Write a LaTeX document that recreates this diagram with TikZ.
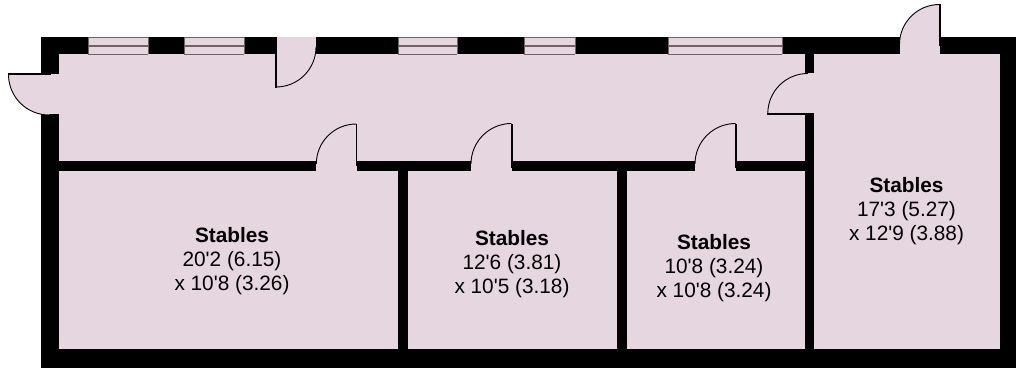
\documentclass[tikz,border=0pt]{standalone}
\usepackage{fontspec}
\newfontfamily\labfont{Liberation Sans}
\definecolor{roomfill}{HTML}{E6D6E0}
\definecolor{wingray}{HTML}{6E6468}
\tikzset{
  wall/.style={fill=black,draw=none},
  room/.style={fill=roomfill,draw=none},
  leaf/.style={fill=black,draw=none},
  swing/.style={draw=black,line width=0.9pt},
  winline/.style={draw=wingray,line width=0.9pt},
  winmid/.style={draw=wingray,line width=1.7pt},
  label/.style={align=center,font=\labfont\fontsize{20.8}{24}\selectfont,inner sep=0pt}
}
\newcommand{\windowat}[2]{%
  \fill[room] (#1,37) rectangle (#2,54.5);
  \draw[winline] (#1,37.5) -- (#2,37.5);
  \draw[winmid] (#1,45.8) -- (#2,45.8);
  \draw[winline] (#1,54.2) -- (#2,54.2);
  \draw[draw=wingray,line width=0.5pt] (#1,37) -- (#1,54.5) (#2,37) -- (#2,54.5);
}
\begin{document}
\begin{tikzpicture}[x=1pt,y=-1pt]
\useasboundingbox (0,0) rectangle (1016,371);
% shell and rooms
\fill[wall] (41,37) rectangle (1016,367.5);
\fill[room] (59,54.5) rectangle (1000,349.3);
% interior walls
\fill[wall] (59,161) rectangle (805,170.7);
\fill[wall] (804.5,54.5) rectangle (813.8,349.3);
\fill[wall] (398,170) rectangle (407.7,349.3);
\fill[wall] (617,170) rectangle (626.7,349.3);
% windows
\windowat{88.3}{147.8}
\windowat{184.3}{244}
\windowat{398}{457.3}
\windowat{524}{575}
\windowat{668}{782.3}
% left door
\fill[room] (8.5,74.5) arc[start angle=180,end angle=90,radius=40.5] -- (49,74.5) -- cycle;
\fill[room] (41,74.5) rectangle (59,114);
\draw[swing] (8.5,74.5) arc[start angle=180,end angle=90,radius=40.5];
\fill[room] (41.5,74.5) rectangle (59,114);
\fill[leaf] (8,73) rectangle (51,75.3);
% top door 1
\fill[room] (276,37) rectangle (316,55);
\draw[swing] (316,47) arc[start angle=0,end angle=90,radius=40];
\fill[leaf] (275,48) rectangle (277.2,87.8);
\fill[leaf] (275.7,37) rectangle (277,50);
% corridor door 1
\fill[room] (316.3,161) rectangle (357,170.7);
\draw[swing] (316.3,164) arc[start angle=180,end angle=270,radius=40];
\fill[room] (316.3,164) rectangle (355.6,170.7);
\fill[leaf] (355.6,124) rectangle (357.4,166);
% corridor door 2
\fill[room] (471,161) rectangle (512,170.7);
\draw[swing] (471,164) arc[start angle=180,end angle=270,radius=40.5];
\fill[room] (471,164) rectangle (510.8,170.7);
\fill[leaf] (510.8,124) rectangle (513,168);
% corridor door 3
\fill[room] (695,161) rectangle (736,170.7);
\draw[swing] (695,164) arc[start angle=180,end angle=270,radius=40.5];
\fill[room] (695,164) rectangle (734.8,170.7);
\fill[leaf] (734.8,124) rectangle (737,168);
% side door
\fill[room] (804,73.5) rectangle (814,114);
\draw[swing] (767.8,113.5) arc[start angle=180,end angle=270,radius=40];
\fill[leaf] (767.3,113) rectangle (814,115.3);
% top door 2
\fill[room] (899.5,37) rectangle (939.5,55);
\fill[room] (899.5,44.5) arc[start angle=180,end angle=270,radius=40] -- (939.5,44.5) -- cycle;
\draw[swing] (899.5,44.5) arc[start angle=180,end angle=270,radius=40];
\fill[room] (900,44) rectangle (939,55);
\fill[leaf] (938.8,4) rectangle (941,46);
% labels
\node[label] (r1) at (232,260.9) {\bfseries Stables\\20'2 (6.15)\\x 10'8 (3.26)};
\node[label] (r2) at (512,264.5) {\bfseries Stables\\12'6 (3.81)\\x 10'5 (3.18)};
\node[label] (r3) at (714,268.2) {\bfseries Stables\\10'8 (3.24)\\x 10'8 (3.24)};
\node[label] (r4) at (906.5,210.9) {\bfseries Stables\\17'3 (5.27)\\x 12'9 (3.88)};
\end{tikzpicture}
\end{document}
